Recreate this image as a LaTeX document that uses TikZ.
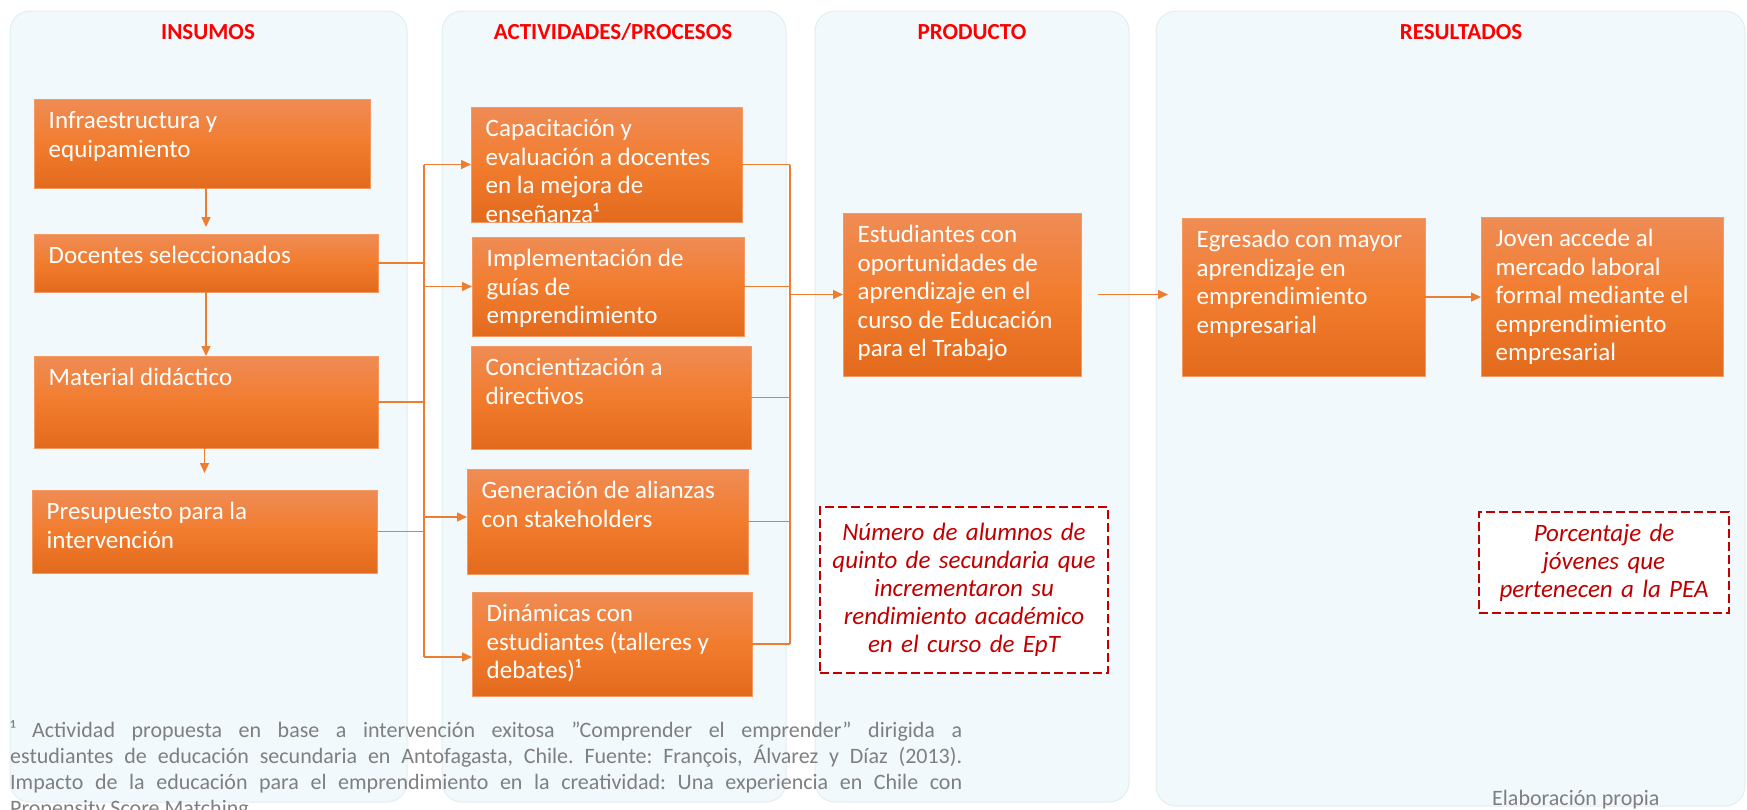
\documentclass[tikz,border=0pt]{standalone}
\usepackage{fontspec}
\setmainfont{Carlito}
\usetikzlibrary{arrows.meta}
\frenchspacing
\definecolor{panelfill}{HTML}{F1F9FC}
\definecolor{paneldraw}{HTML}{E3EDF2}
\definecolor{otop}{HTML}{EF8C55}
\definecolor{omid}{HTML}{F27C2E}
\definecolor{obot}{HTML}{E26A1C}
\definecolor{oedge}{HTML}{F39A63}
\definecolor{connc}{HTML}{ED7D31}
\definecolor{ttl}{HTML}{FF0000}
\definecolor{dred}{HTML}{C00000}
\definecolor{gtxt}{HTML}{7F7F7F}
\tikzset{
  panel/.style={rounded corners=20pt, fill=panelfill, draw=paneldraw, line width=1pt},
  ptitle/.style={text=ttl, font=\fontsize{23}{27}\selectfont\bfseries, inner sep=0, anchor=base},
  obox/.style={draw=oedge, line width=1pt, top color=otop, bottom color=obot, middle color=omid, inner sep=0, outer sep=0, anchor=north west},
  btxt/.style={text=white, inner sep=0, anchor=base west, font=\fontsize{25}{28.5}\selectfont},
  conn/.style={draw=connc, line width=1.5pt},
  arr/.style={conn, -{Triangle[length=10pt,width=9pt]}},
  dbox/.style={draw=dred, dash pattern=on 9pt off 4pt, line width=2.5pt, fill=white, text=dred, align=center, font=\fontsize{25}{28}\selectfont\itshape, inner sep=0},
  foot/.style={text=gtxt, inner sep=0, anchor=base west, font=\fontsize{22}{26}\selectfont},
}
\newcommand{\obx}[6]{%
  \node[obox, minimum width={(#4-#2)*1pt}, minimum height={(#5-#3)*1pt}] (#1) at (#2,#3) {};
  \node[btxt] (#1t) at ([xshift=14.5pt,yshift=-29.5pt]#1.north west) {\parbox[t]{320pt}{\raggedright #6}};
}
\begin{document}
\begin{tikzpicture}[x=1pt,y=-1pt]
\useasboundingbox (0,0) rectangle (1747,809);
% panels
\path[panel] (10,11) rectangle (407,802);
\path[panel] (442,11) rectangle (786,802);
\path[panel] (815,11) rectangle (1129,802);
\path[panel] (1156,11) rectangle (1745,806);
\node[ptitle] (t1) at (208,39) {INSUMOS};
\node[ptitle] (t2) at (613,39) {ACTIVIDADES/PROCESOS};
\node[ptitle] (t3) at (972,39) {PRODUCTO};
\node[ptitle] (t4) at (1461,39) {RESULTADOS};
% boxes
\obx{infra}{34}{99}{370}{188}{Infraestructura y\\equipamiento}
\obx{doc}{34}{234}{378}{292}{Docentes seleccionados}
\obx{mat}{34}{356}{378}{448}{Material didáctico}
\obx{pres}{32}{490}{377}{573}{Presupuesto para la\\intervención}
\obx{cap}{471}{107}{742}{222}{Capacitación y\\evaluación a docentes\\en la mejora de\\enseñanza¹}
\obx{imp}{472}{237}{744}{336}{Implementación de\\guías de\\emprendimiento}
\obx{con}{471}{346}{751}{449}{Concientización a\\directivos}
\obx{gen}{467}{469}{748}{574}{Generación de alianzas\\con stakeholders}
\obx{din}{472}{592}{752}{696}{Dinámicas con\\estudiantes (talleres y\\debates)¹}
\obx{prod}{843}{213}{1081}{376}{Estudiantes con\\oportunidades de\\aprendizaje en el\\curso de Educación\\para el Trabajo}
\obx{egr}{1182}{218}{1425}{376}{Egresado con mayor\\aprendizaje en\\emprendimiento\\empresarial}
\obx{jov}{1481}{217}{1723}{376}{Joven accede al\\mercado laboral\\formal mediante el\\emprendimiento\\empresarial}
% vertical arrows in INSUMOS
\draw[arr, shorten >=7pt] (doc.north |- infra.south) -- (doc.north);
\draw[arr] (mat.north |- doc.south) -- (mat.north);
\draw[arr, shorten >=17pt] (pres.north |- mat.south) -- (pres.north);
% left bus
\coordinate (bL) at (424,0);
\coordinate (bR) at (790,0);
\draw[conn] (doc.east) -- (doc.east -| bL);
\draw[conn] (mat.east) -- (mat.east -| bL);
\draw[conn] (pres.east) -- (pres.east -| bL);
\draw[conn] (cap.west -| bL) -- ([yshift=-13pt]din.west -| bL);
\draw[arr] (cap.west -| bL) -- (cap.west);
\draw[arr] (imp.west -| bL) -- (imp.west);
\draw[arr] ([yshift=4.5pt]gen.west -| bL) -- ([yshift=4.5pt]gen.west);
\draw[arr] ([yshift=-13pt]din.west -| bL) -- ([yshift=-13pt]din.west);
% right bus
\draw[conn] (cap.east) -- (cap.east -| bR);
\draw[conn] (imp.east) -- (imp.east -| bR);
\draw[conn] (con.east) -- (con.east -| bR);
\draw[conn] (gen.east) -- (gen.east -| bR);
\draw[conn] (din.east) -- (din.east -| bR);
\draw[conn] (cap.east -| bR) -- (din.east -| bR);
\draw[arr] (prod.west -| bR) -- (prod.west);
% results arrows
\draw[arr, shorten <=17pt, shorten >=14pt] (prod.east) -- (prod.east -| egr.west);
\draw[arr] (egr.east) -- (egr.east -| jov.west);
% indicators
\node[dbox, minimum width=288pt, minimum height=166pt, text width=280pt] (ind1) at (964,590) {Número de alumnos de\\quinto de secundaria que\\incrementaron su\\rendimiento académico\\en el curso de EpT};
\node[dbox, minimum width=250pt, minimum height=101pt, text width=240pt] (ind2) at (1604,562.5) {Porcentaje de\\jóvenes que\\pertenecen a la PEA};
% footnote
\node[foot] (fn1) at (10,737) {\makebox[952pt][s]{¹ Actividad propuesta en base a intervención exitosa ”Comprender el emprender” dirigida a}};
\node[foot] (fn2) at (10,763) {\makebox[952pt][s]{estudiantes de educación secundaria en Antofagasta, Chile. Fuente: François, Álvarez y Díaz (2013).}};
\node[foot] (fn3) at (10,789) {\makebox[952pt][s]{Impacto de la educación para el emprendimiento en la creatividad: Una experiencia en Chile con}};
\node[foot] (fn4) at (10,815) {Propensity Score Matching};
\node[foot] (elab) at (1492,805) {Elaboración propia};
\end{tikzpicture}
\end{document}
